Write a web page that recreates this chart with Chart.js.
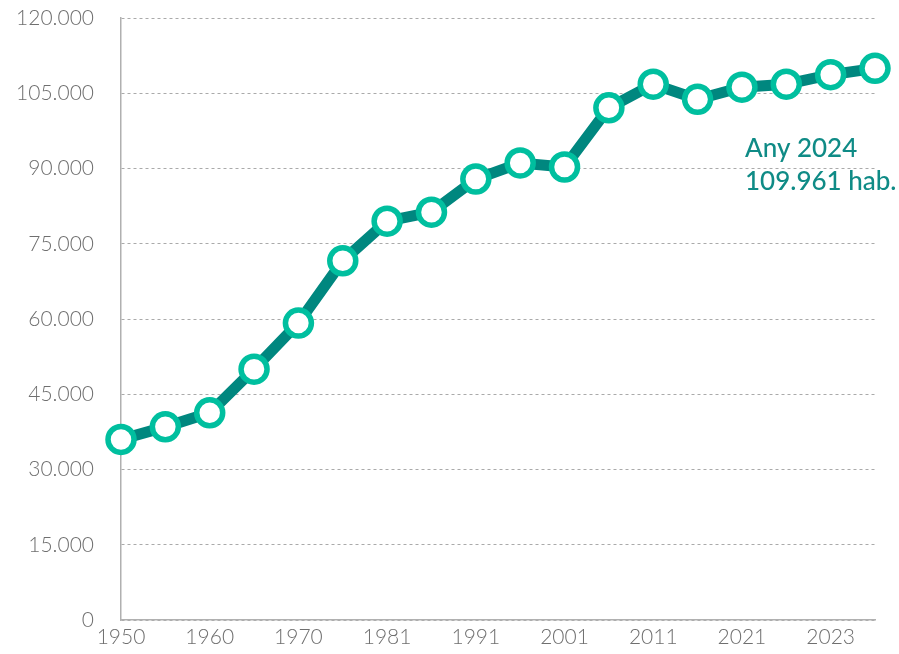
<!DOCTYPE html>
<html>
<head>
<meta charset="utf-8">
<script src="https://cdn.jsdelivr.net/npm/chart.js@4"></script>
<style>
  html, body { margin: 0; padding: 0; background: #fff; }
  #wrap { width: 899px; height: 654px; }
</style>
</head>
<body>
<div id="wrap"><canvas id="popChart" width="899" height="654"></canvas></div>
<script>
const years = ["1950", "1955", "1960", "1965", "1970", "1975", "1981", "1986", "1991",
  "1996", "2001", "2006", "2011", "2016", "2021", "2022", "2023", "2024"];
const population = [36000, 38500, 41300, 50000, 59200, 71600, 79500, 81300, 87900,
  91100, 90300, 102100, 106800, 103800, 106200, 106800, 108700, 109961];
const yTicks = [0, 15000, 30000, 45000, 60000, 75000, 90000, 105000, 120000];
const noteLines = ["Any 2024", "109.961 hab."];

const fmt = (v) => String(v).replace(/\B(?=(\d{3})+(?!\d))/g, ".");

const notePlugin = {
  id: "note",
  afterDatasetsDraw(chart) {
    const { ctx, scales } = chart;
    const x = scales.x.getPixelForValue(years.length - 1) - 130;
    const y = scales.y.getPixelForValue(90000);
    ctx.save();
    ctx.fillStyle = "#0f8b86";
    ctx.font = "500 26px Lato, 'Open Sans', sans-serif";
    ctx.textBaseline = "middle";
    ctx.fillText(noteLines[0], x, y - 20);
    ctx.fillText(noteLines[1], x, y + 13);
    ctx.restore();
  }
};

const ctx = document.getElementById("popChart");

new Chart(ctx, {
  type: "line",
  data: {
    labels: years,
    datasets: [
      {
        data: population,
        borderColor: "#00877f",
        borderWidth: 11,
        pointBackgroundColor: "#ffffff",
        pointBorderColor: "#00bf9f",
        pointBorderWidth: 5.5,
        pointRadius: 13,
        pointHoverRadius: 13,
        tension: 0,
        clip: false,
      },
    ],
  },
  options: {
    responsive: false,
    animation: false,
    events: [],
    layout: { autoPadding: false, padding: { top: 18, right: 24, left: 0, bottom: 0 } },
    plugins: { legend: { display: false }, tooltip: { enabled: false } },
    scales: {
      x: {
        offset: false,
        grid: { display: false, drawTicks: false },
        border: { display: true, color: "#b0b0b0", width: 1.5 },
        ticks: {
          autoSkip: false,
          maxRotation: 0,
          padding: 5,
          color: "#6f6f6f",
          font: { family: "Lato, 'Open Sans', sans-serif", size: 21, weight: 300 },
          callback: (v, i) => (i % 2 === 0 ? years[i] : ""),
        },
        afterFit: (s) => { s.height = 34; },
      },
      y: {
        min: 0,
        max: 120000,
        afterBuildTicks: (s) => { s.ticks = yTicks.map((v) => ({ value: v })); },
        grid: { color: "#aaaaaa", lineWidth: 1, drawTicks: true, tickLength: 24, tickColor: "rgba(0,0,0,0)" },
        border: { display: true, color: "#b0b0b0", width: 1.5, dash: [3, 3] },
        ticks: {
          padding: 3,
          color: "#6f6f6f",
          font: { family: "Lato, 'Open Sans', sans-serif", size: 21, weight: 300 },
          callback: (v) => fmt(v),
        },
        afterFit: (s) => { s.width = 121; },
      },
    },
  },
  plugins: [notePlugin],
});
</script>
</body>
</html>
